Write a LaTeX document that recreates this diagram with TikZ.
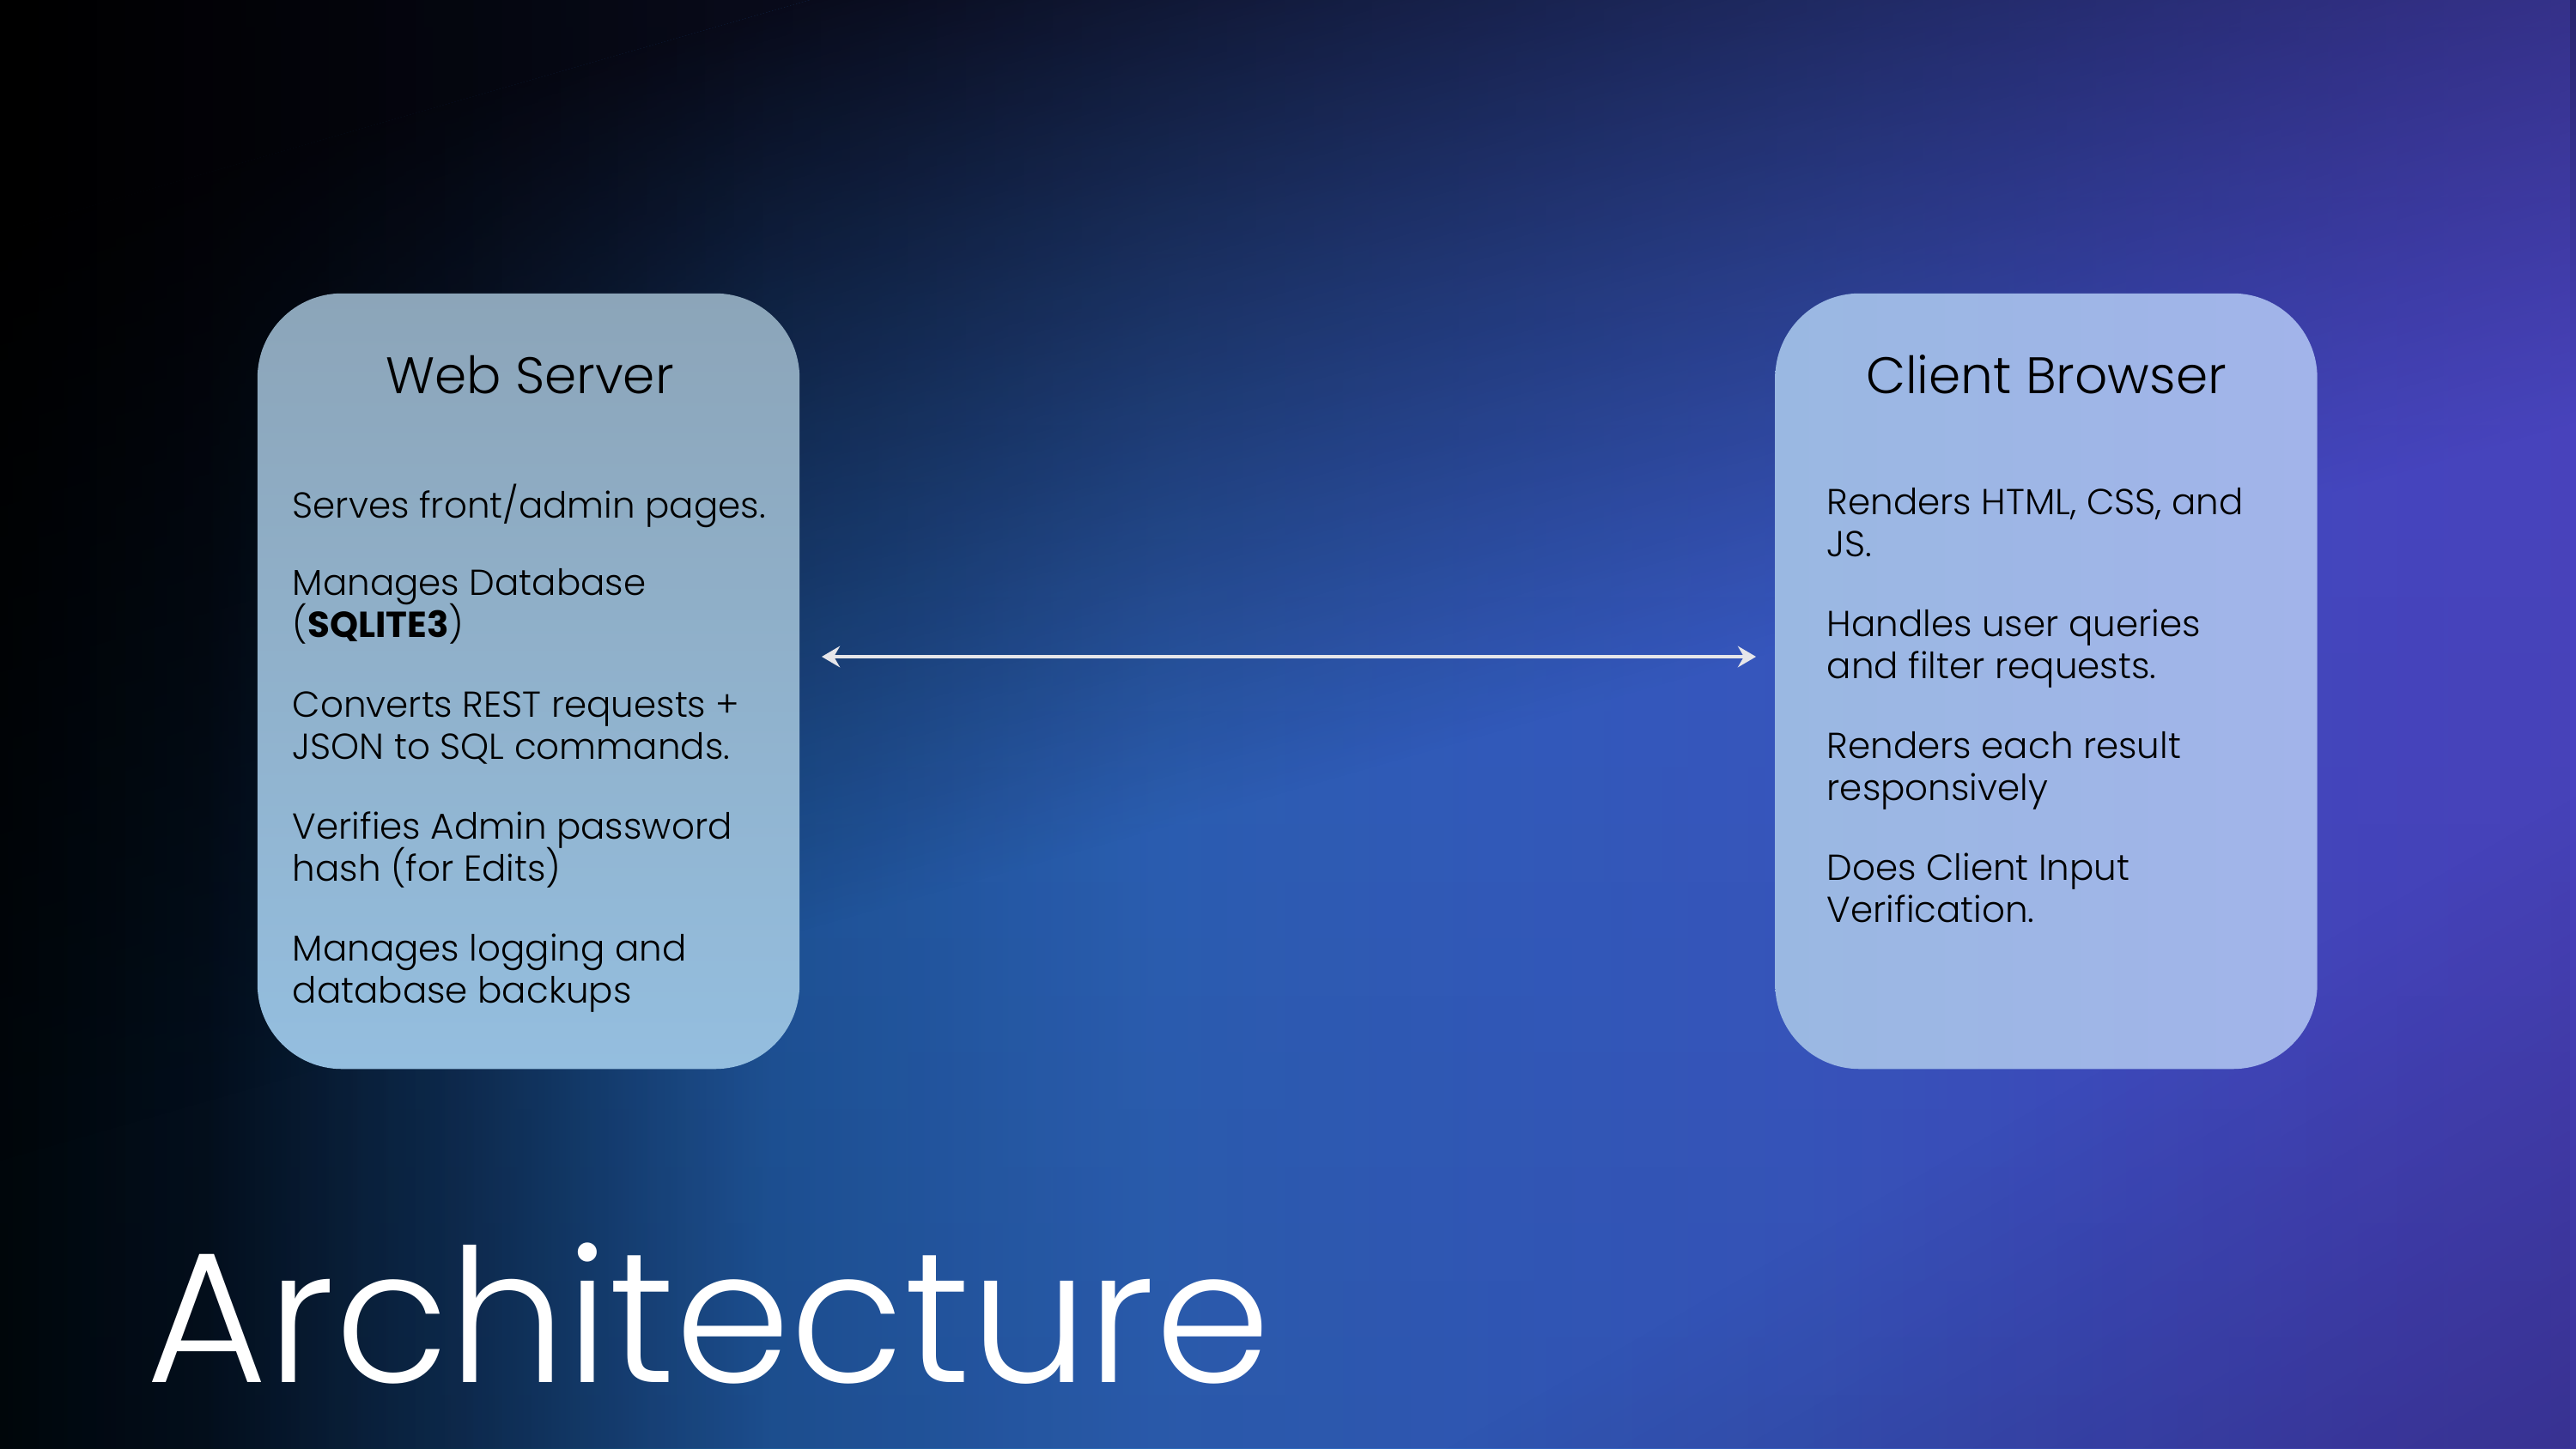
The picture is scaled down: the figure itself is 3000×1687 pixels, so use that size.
\documentclass[tikz,border=0pt]{standalone}
\usepackage{fontspec}
\setmainfont{Poppins}
\IfFontExistsTF{Poppins Light}{\newfontfamily\ltfont{Poppins Light}}{\newfontfamily\ltfont{Poppins}}
\usetikzlibrary{arrows.meta,fadings}
\definecolor{bgA}{HTML}{01070C}
\definecolor{bgB}{HTML}{020F1A}
\definecolor{bgC}{HTML}{0A2C4C}
\definecolor{bgD}{HTML}{1A5898}
\definecolor{bgE}{HTML}{2868B8}
\definecolor{bgF}{HTML}{2E64C2}
\definecolor{bgG}{HTML}{3460C6}
\definecolor{bgH}{HTML}{3C52C6}
\definecolor{bgI}{HTML}{4648C4}
\definecolor{bgJ}{HTML}{4A44C0}
\definecolor{purpR}{HTML}{4A46C0}
\definecolor{vign}{HTML}{1A1040}
\definecolor{lboxT}{HTML}{8CA5B9}
\definecolor{lboxB}{HTML}{94BEDF}
\definecolor{rboxL}{HTML}{9AB8E2}
\definecolor{rboxR}{HTML}{A2B4EA}
\definecolor{arrowc}{HTML}{E6E6EA}
\pgfdeclarehorizontalshading{bgbase}{100bp}{color(0bp)=(bgA); color(25bp)=(bgA); color(29bp)=(bgB); color(34bp)=(bgC); color(40bp)=(bgD); color(47.5bp)=(bgE); color(54bp)=(bgF); color(60bp)=(bgG); color(66bp)=(bgH); color(71bp)=(bgI); color(75bp)=(bgJ); color(100bp)=(bgJ)}
\tikzfading[name=fadediag, top color=transparent!5, bottom color=transparent!100]
\tikzfading[name=fadecorner, top color=transparent!100, bottom color=transparent!65]
\tikzfading[name=faderight, left color=transparent!100, middle color=transparent!100, right color=transparent!65]
\tikzfading[name=fadebottom, top color=transparent!100, middle color=transparent!100, bottom color=transparent!90]
\begin{document}
\begin{tikzpicture}[x=0.01cm,y=-0.01cm,
  box/.style={rounded corners=28pt, minimum width=6.31cm, minimum height=9.03cm, inner sep=0pt, draw=none},
  ttl/.style={font=\ltfont\fontsize{17}{20}\selectfont, text=black, inner sep=0pt, anchor=base},
  body/.style={font=\ltfont\fontsize{11.95}{14}\selectfont, text=black, inner sep=0pt, anchor=base west},
  conn/.style={draw=arrowc, line width=1.1pt, {Stealth[length=6pt,width=7pt,inset=2pt]}-{Stealth[length=6pt,width=7pt,inset=2pt]}}]
\useasboundingbox (0,0) rectangle (3000,1687);
% background
\shade[shading=bgbase] (0,0) rectangle (3000,1687);
\fill[black, path fading=fadebottom] (0,0) rectangle (3000,1687);
\begin{scope}[transform canvas={rotate around={16:(0,0)}}]
  \fill[black, opacity=0.95] (-2000,-3000) rectangle (5000,260);
  \fill[black, path fading=fadediag] (-2000,260) rectangle (5000,1300);
\end{scope}
\fill[purpR, path fading=faderight] (0,0) rectangle (3000,1687);
\begin{scope}[transform canvas={rotate around={30:(0,0)}}]
  \fill[vign, path fading=fadecorner] (-3000,2300) rectangle (5000,3100);
\end{scope}

% boxes
\node[box, top color=lboxT, bottom color=lboxB] (web) at (615.5,793.5) {};
\node[box, left color=rboxL, right color=rboxR] (cli) at (2383,793.5) {};

\node[ttl] (webt) at (617,458) {Web Server};
\node[ttl] (clit) at (2383,458) {Client Browser};

\node[body] (w1) at (340,603) {Serves front/admin pages.};
\node[body] (w2) at (340,693) {Manages Database};
\node[body] (w3) at (340,742) {({\rmfamily\bfseries SQLITE3})};
\node[body] (w4) at (340,835) {Converts REST requests +};
\node[body] (w5) at (340,884) {JSON to SQL commands.};
\node[body] (w6) at (340,977) {Verifies Admin password};
\node[body] (w7) at (340,1026) {hash (for Edits)};
\node[body] (w8) at (340,1119) {Manages logging and};
\node[body] (w9) at (340,1168) {database backups};

\node[body] (c1) at (2127,599) {Renders HTML, CSS, and};
\node[body] (c2) at (2127,648) {JS.};
\node[body] (c3) at (2127,741) {Handles user queries};
\node[body] (c4) at (2127,790) {and filter requests.};
\node[body] (c5) at (2127,883) {Renders each result};
\node[body] (c6) at (2127,932) {responsively};
\node[body] (c7) at (2127,1025) {Does Client Input};
\node[body] (c8) at (2127,1074) {Verification.};

\coordinate (al) at (957,765);
\coordinate (ar) at (2045,765);
\draw[conn] (al) -- (ar);

\node[anchor=base west, font=\ltfont\fontsize{61.5}{72}\selectfont, text=white, inner sep=0pt] (arch) at (170,1610) {Architecture};
\end{tikzpicture}
\end{document}
